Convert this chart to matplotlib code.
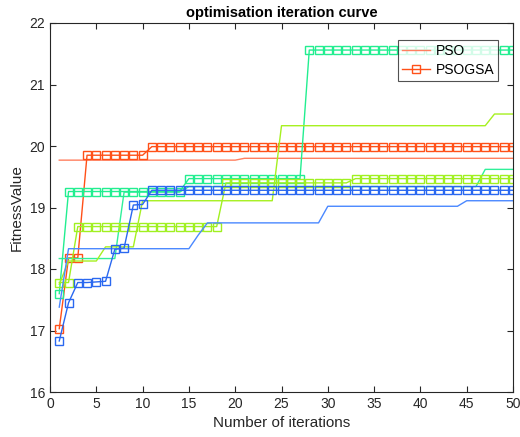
import matplotlib
matplotlib.use("Agg")
import matplotlib.pyplot as plt
import numpy as np

plt.rcParams['font.family'] = ['Liberation Sans', 'DejaVu Sans']

iterations = list(range(1, 51))

pso_orange = [19.77] * 20 + [19.80] * 30
psogsa_orange = [17.03, 18.18, 18.18] + [19.85] * 7 + [19.99] * 40

pso_green = [18.17] * 7 + [19.25] * 7 + [19.34] * 32 + [19.62] * 4
psogsa_green = [17.60] + [19.26] * 13 + [19.47] * 13 + [21.56] * 23

pso_yellowgreen = [17.75] + [18.13] * 4 + [18.36] * 4 + [19.11] * 15 + [20.33] * 23 + [20.52] * 3
psogsa_yellowgreen = [17.78, 17.78] + [18.69] * 16 + [19.40] * 14 + [19.47] * 18

pso_blue = [17.38] + [18.33] * 14 + [18.55] + [18.75] * 13 + [19.02] * 15 + [19.11] * 6
psogsa_blue = [16.83, 17.45, 17.78, 17.78, 17.79, 17.80, 18.32, 18.34, 19.04, 19.05] + [19.28] * 40

x_ticks = [0, 5, 10, 15, 20, 25, 30, 35, 40, 45, 50]
y_ticks = [16, 17, 18, 19, 20, 21, 22]

fig = plt.figure(figsize=(5.2, 4.37), dpi=100)
ax = fig.add_axes([50 / 520, 45 / 437, 463 / 520, 369 / 437])

pairs = [
    (pso_orange, psogsa_orange, '#FF8060', '#FF5018'),
    (pso_green, psogsa_green, '#30F09A', '#22EE90'),
    (pso_yellowgreen, psogsa_yellowgreen, '#A6F020', '#A0F020'),
    (pso_blue, psogsa_blue, '#4A88FF', '#2A68F0'),
]

for i, (p, g, cp, cg) in enumerate(pairs):
    ax.plot(iterations, p, color=cp, lw=1.0, label='PSO' if i == 0 else None)
    ax.plot(iterations, g, color=cg, lw=1.0, marker='s', markersize=5.3,
            markerfacecolor='none', markeredgewidth=1.0,
            label='PSOGSA' if i == 0 else None)

ax.set_xlim(0, 50)
ax.set_ylim(16, 22)
ax.set_xticks(x_ticks)
ax.set_yticks(y_ticks)
ax.tick_params(direction='in', top=True, right=True, length=4, width=0.8,
               labelsize=10, colors='#262626')
for s in ax.spines.values():
    s.set_color('#262626')
    s.set_linewidth(0.8)

ax.set_title('optimisation iteration curve', fontsize=10.5, fontweight='bold', pad=4)
ax.set_xlabel('Number of iterations', fontsize=11, color='#262626')
ax.set_ylabel('FitnessValue', fontsize=11, color='#262626')

leg = ax.legend(loc='upper right', bbox_to_anchor=(0.968, 0.955), fontsize=10,
                frameon=True, fancybox=False, edgecolor='#262626',
                handlelength=2.0, borderpad=0.3, labelspacing=0.35,
                handletextpad=0.4, borderaxespad=0)
leg.get_frame().set_linewidth(0.8)

fig.savefig('out.png', dpi=100)
